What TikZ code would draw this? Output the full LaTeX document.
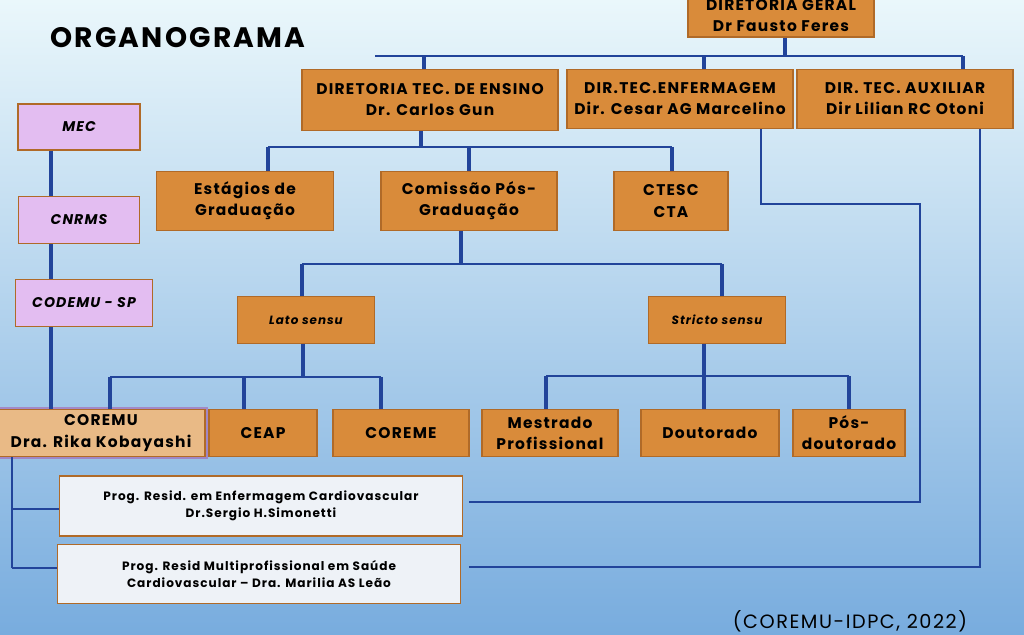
\documentclass[tikz,border=0pt]{standalone}
\usepackage{fontspec}
\setmainfont{Poppins}[LetterSpace=8]

\definecolor{boxorange}{HTML}{D98B3A}
\definecolor{boxedge}{HTML}{B06A28}
\definecolor{boxlilac}{HTML}{E3BDF1}
\definecolor{boxpale}{HTML}{EEF2F7}
\definecolor{boxsand}{HTML}{E9BA86}
\definecolor{linkblue}{HTML}{22449A}
\definecolor{skytop}{HTML}{EAF7FB}
\definecolor{skymid}{HTML}{C4E3F1}
\definecolor{skybottom}{HTML}{78ACDE}

\begin{document}
\begin{tikzpicture}[x=0.025cm, y=-0.025cm,
	orgbox/.style={draw=boxedge, fill=boxorange, line width=0.9pt, align=center, inner sep=0pt, font=\bfseries\fontsize{11}{15}\selectfont},
	lilacbox/.style={orgbox, fill=boxlilac, font=\bfseries\itshape\fontsize{10}{14}\selectfont},
	sensubox/.style={orgbox, font=\bfseries\itshape\fontsize{8.5}{12}\selectfont},
	progbox/.style={orgbox, fill=boxpale, font=\bfseries\fontsize{8.6}{12}\selectfont},
	stem/.style={draw=linkblue, line width=2.4pt},
	bus/.style={draw=linkblue, line width=1.4pt},
	link/.style={draw=linkblue, line width=1.9pt, line join=miter}]

		\shade[top color=skytop, middle color=skymid, bottom color=skybottom] (0,0) rectangle (1024,635);
		\useasboundingbox (0,0) rectangle (1024,635);

		\node[font=\bfseries\fontsize{20}{24}\selectfont] (title) at (178,38) {ORGANOGRAMA};

		% direcao
		\node[orgbox, minimum width=4.65cm, minimum height=1.05cm] (dg) at (781,16) {DIRETORIA GERAL\\Dr Fausto Feres};
		\node[orgbox, minimum width=6.4cm, minimum height=1.525cm] (dte) at (430,100) {DIRETORIA TEC. DE ENSINO\\Dr. Carlos Gun};
		\node[orgbox, minimum width=5.65cm, minimum height=1.475cm] (enf) at (680,99) {DIR.TEC.ENFERMAGEM\\Dir. Cesar AG Marcelino};
		\node[orgbox, minimum width=5.4cm, minimum height=1.475cm] (aux) at (905,99) {DIR. TEC. AUXILIAR\\Dir Lilian RC Otoni};

		\coordinate (b1) at (785,56);
		\coordinate (b1l) at (375,56);
		\coordinate (b1r) at (963,56);
		\coordinate (d1) at (424,56);
		\coordinate (d2) at (704,56);
		\draw[stem] (dg.south -| b1) -- (b1);
		\draw[bus] (b1l) -- (b1r);
		\draw[stem] (d1) -- (d1 |- dte.north);
		\draw[stem] (d2) -- (d2 |- enf.north);
		\draw[stem] (b1r) -- (b1r |- aux.north);

		% orgaos externos
		\node[lilacbox, minimum width=3.05cm, minimum height=1.15cm] (mec) at (79,127) {MEC};
		\node[lilacbox, minimum width=3.025cm, minimum height=1.175cm] (cnrms) at (79,220) {CNRMS};
		\node[lilacbox, minimum width=3.425cm, minimum height=1.175cm] (codemu) at (84,303) {CODEMU - SP};

		% ensino
		\node[orgbox, minimum width=4.425cm, minimum height=1.475cm] (est) at (245,201) {Estágios de\\Graduação};
		\node[orgbox, minimum width=4.4cm, minimum height=1.475cm] (com) at (469,201) {Comissão Pós-\\Graduação};
		\node[orgbox, minimum width=2.85cm, minimum height=1.475cm] (ctesc) at (671,201) {CTESC\\CTA};

		\coordinate (b2) at (421,147);
		\coordinate (b2l) at (268,147);
		\coordinate (b2r) at (672,147);
		\draw[stem] (dte.south -| b2) -- (b2);
		\draw[bus] (b2l) -- (b2r);
		\draw[stem] (b2l) -- (b2l |- est.north);
		\draw[stem] (b2 -| com.north) -- (com.north);
		\draw[stem] (b2r) -- (b2r |- ctesc.north);

		\node[sensubox, minimum width=3.425cm, minimum height=1.175cm] (lato) at (306,320) {Lato sensu};
		\node[sensubox, minimum width=3.425cm, minimum height=1.175cm] (stricto) at (717,320) {Stricto sensu};

		\coordinate (b3) at (461,264);
		\coordinate (b3l) at (302,264);
		\coordinate (b3r) at (722,264);
		\draw[stem] (com.south -| b3) -- (b3);
		\draw[bus] (b3l) -- (b3r);
		\draw[stem] (b3l) -- (b3l |- lato.north);
		\draw[stem] (b3r) -- (b3r |- stricto.north);

		% lato sensu
		\node[orgbox, fill=boxsand, minimum width=5.2cm, minimum height=1.175cm,
			preaction={draw=violet!70, line width=4pt, opacity=0.5}] (coremu) at (101,433) {COREMU\\Dra. Rika Kobayashi};
		\node[orgbox, minimum width=2.7cm, minimum height=1.175cm] (ceap) at (263,433) {CEAP};
		\node[orgbox, minimum width=3.4cm, minimum height=1.175cm] (coreme) at (401,433) {COREME};

		\coordinate (b4) at (303,377);
		\coordinate (b4l) at (110,377);
		\coordinate (b4m) at (244,377);
		\coordinate (b4r) at (381,377);
		\draw[stem] (lato.south -| b4) -- (b4);
		\draw[bus] (b4l) -- (b4r);
		\draw[stem] (b4l) -- (b4l |- coremu.north);
		\draw[stem] (b4m) -- (b4m |- ceap.north);
		\draw[stem] (b4r) -- (b4r |- coreme.north);

		% stricto sensu
		\node[orgbox, minimum width=3.4cm, minimum height=1.175cm] (mest) at (550,433) {Mestrado\\Profissional};
		\node[orgbox, minimum width=3.45cm, minimum height=1.175cm] (dout) at (710,433) {Doutorado};
		\node[orgbox, minimum width=2.8cm, minimum height=1.175cm] (posd) at (849,433) {Pós-\\doutorado};

		\coordinate (b5) at (704,376);
		\coordinate (b5l) at (546,376);
		\coordinate (b5r) at (849,376);
		\draw[stem] (stricto.south -| b5) -- (b5 |- dout.north);
		\draw[bus] (b5l) -- (b5r);
		\draw[stem] (b5l) -- (b5l |- mest.north);
		\draw[stem] (b5r) -- (b5r |- posd.north);

		% cadeia externa
		\coordinate (c1) at (51,0);
		\draw[stem] (mec.south -| c1) -- (cnrms.north -| c1);
		\draw[stem] (cnrms.south -| c1) -- (codemu.north -| c1);
		\draw[stem] (codemu.south -| c1) -- (coremu.north -| c1);

		% programas de residencia
		\node[progbox, minimum width=10.075cm, minimum height=1.5cm] (prog1) at (261,506) {Prog. Resid. em Enfermagem Cardiovascular\\Dr.Sergio H.Simonetti};
		\node[progbox, minimum width=10.075cm, minimum height=1.475cm] (prog2) at (259,574) {Prog. Resid Multiprofissional em Saúde\\Cardiovascular -- Dra. Marilia AS Leão};

		\coordinate (p1) at (12,509);
		\coordinate (p2) at (12,568);
		\draw[link] (coremu.south -| p1) -- (p2);
		\draw[link] (p1) -- (p1 -| prog1.west);
		\draw[link] (p2) -- (p2 -| prog2.west);

		\coordinate (e1) at (761,204);
		\coordinate (e2) at (920,204);
		\coordinate (e3) at (920,502);
		\draw[link] (enf.south -| e1) -- (e1) -- (e2) -- (e3) -- ([xshift=0.15cm]e3 -| prog1.east);

		\coordinate (a1) at (980,567);
		\draw[link] (aux.south -| a1) -- (a1) -- ([xshift=0.2cm]a1 -| prog2.east);

		\node[font=\fontsize{13.7}{16}\selectfont] (fonte) at (850,621) {(COREMU-IDPC, 2022)};

\end{tikzpicture}
\end{document}
